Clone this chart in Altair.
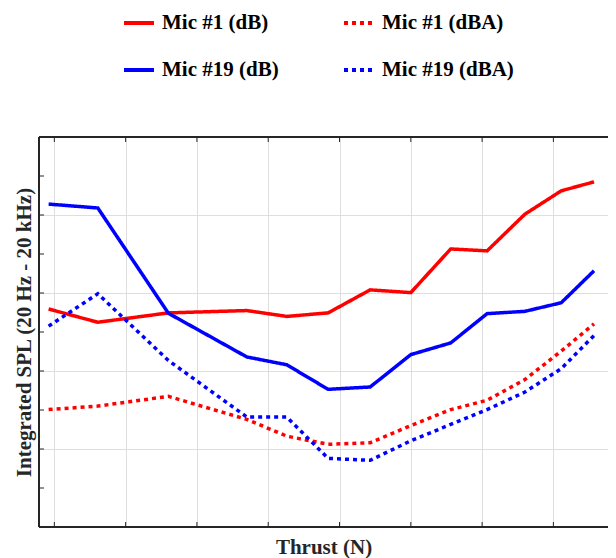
import altair as alt
import pandas as pd

# ---- data (axes carry no numeric labels) ----
thrust = [-0.08, 0.61, 1.60, 2.70, 3.26, 3.84, 4.43, 5.00, 5.56, 6.07, 6.60, 7.11, 7.57]
mic1_db = [5.59, 5.25, 5.49, 5.55, 5.40, 5.49, 6.08, 6.01, 7.13, 7.08, 8.02, 8.62, 8.85]
mic1_dba = [3.01, 3.10, 3.35, 2.76, 2.33, 2.12, 2.16, 2.60, 3.01, 3.25, 3.78, 4.51, 5.21]
mic19_db = [8.28, 8.18, 5.48, 4.36, 4.16, 3.53, 3.59, 4.42, 4.72, 5.47, 5.53, 5.75, 6.57]
mic19_dba = [5.15, 5.98, 4.27, 2.82, 2.82, 1.76, 1.71, 2.21, 2.63, 3.01, 3.46, 4.06, 4.91]

series_names = ["Mic #1 (dB)", "Mic #1 (dBA)", "Mic #19 (dB)", "Mic #19 (dBA)"]
series_colors = ["#ff0000", "#ff0000", "#0000ff", "#0000ff"]
series_dash = [[1, 0], [4, 4], [1, 0], [4, 4]]

x_ticks = [0, 1, 2, 3, 4, 5, 6, 7]
y_ticks = [0, 1, 2, 3, 4, 5, 6, 7, 8, 9, 10]

rows = []
for name, vals in zip(series_names, [mic1_db, mic1_dba, mic19_db, mic19_dba]):
    for t, v in zip(thrust, vals):
        rows.append({"Thrust": t, "SPL": v, "Series": name})
df = pd.DataFrame(rows)

W, H = 569, 390
FONT = "Liberation Serif"
FRAME = "#262626"

xscale = alt.Scale(domain=[-0.215, 7.766], nice=False, zero=False)
yscale = alt.Scale(domain=[0, 10], nice=False, zero=False)

legend_def = alt.Legend(
    title=None, orient="none", legendX=83, legendY=-131, columns=2,
    direction="horizontal",
    columnPadding=57, rowPadding=20, symbolType="stroke", symbolSize=900,
    symbolStrokeWidth=4, labelFont=FONT, labelFontWeight="bold",
    labelFontSize=21, labelColor="black", labelOffset=6, symbolOffset=0,
)

lines = alt.Chart(df).mark_line(strokeWidth=3.5, strokeCap="butt").encode(
    x=alt.X("Thrust:Q", scale=xscale,
            axis=alt.Axis(values=x_ticks, grid=True, labels=False, ticks=False,
                          domain=False, title="Thrust (N)", titlePadding=9)),
    y=alt.Y("SPL:Q", scale=yscale,
            axis=alt.Axis(values=y_ticks, grid=True, labels=False, ticks=False,
                          domain=False, title="Integrated SPL (20 Hz - 20 kHz)",
                          titlePadding=5)),
    color=alt.Color("Series:N", scale=alt.Scale(domain=series_names, range=series_colors),
                    legend=legend_def),
    strokeDash=alt.StrokeDash("Series:N", scale=alt.Scale(domain=series_names, range=series_dash),
                              legend=legend_def),
)

xt = pd.DataFrame({"t": x_ticks})
yt = pd.DataFrame({"v": y_ticks})

top_ticks = alt.Chart(xt).mark_rule(color=FRAME, strokeWidth=1).encode(
    x=alt.X("t:Q", scale=xscale), y=alt.value(0), y2=alt.value(5))
bot_ticks = alt.Chart(xt).mark_rule(color=FRAME, strokeWidth=1).encode(
    x=alt.X("t:Q", scale=xscale), y=alt.value(H - 5), y2=alt.value(H))
left_ticks = alt.Chart(yt).mark_rule(color=FRAME, strokeWidth=1).encode(
    y=alt.Y("v:Q", scale=yscale), x=alt.value(0), x2=alt.value(5))

frame_top = alt.Chart(xt).mark_rule(color=FRAME, strokeWidth=1.2).encode(
    x=alt.value(0), x2=alt.value(W), y=alt.value(0))
frame_bot = alt.Chart(xt).mark_rule(color=FRAME, strokeWidth=1.2).encode(
    x=alt.value(0), x2=alt.value(W), y=alt.value(H))
frame_left = alt.Chart(xt).mark_rule(color=FRAME, strokeWidth=1.2).encode(
    x=alt.value(0), y=alt.value(0), y2=alt.value(H))

chart = alt.layer(top_ticks, bot_ticks, left_ticks, frame_top, frame_bot, frame_left,
                  lines).properties(
    width=W, height=H,
    autosize=alt.AutoSizeParams(type="none"),
    padding={"left": 31, "top": 129, "right": 0, "bottom": 31},
).configure_view(
    strokeOpacity=0
).configure_axis(
    gridColor="#dedede", gridWidth=1, gridOpacity=1,
    titleFont=FONT, titleFontWeight="bold", titleFontSize=21, titleColor=FRAME,
)

chart.save("out.html", embed_options={"renderer": "svg", "actions": False})
